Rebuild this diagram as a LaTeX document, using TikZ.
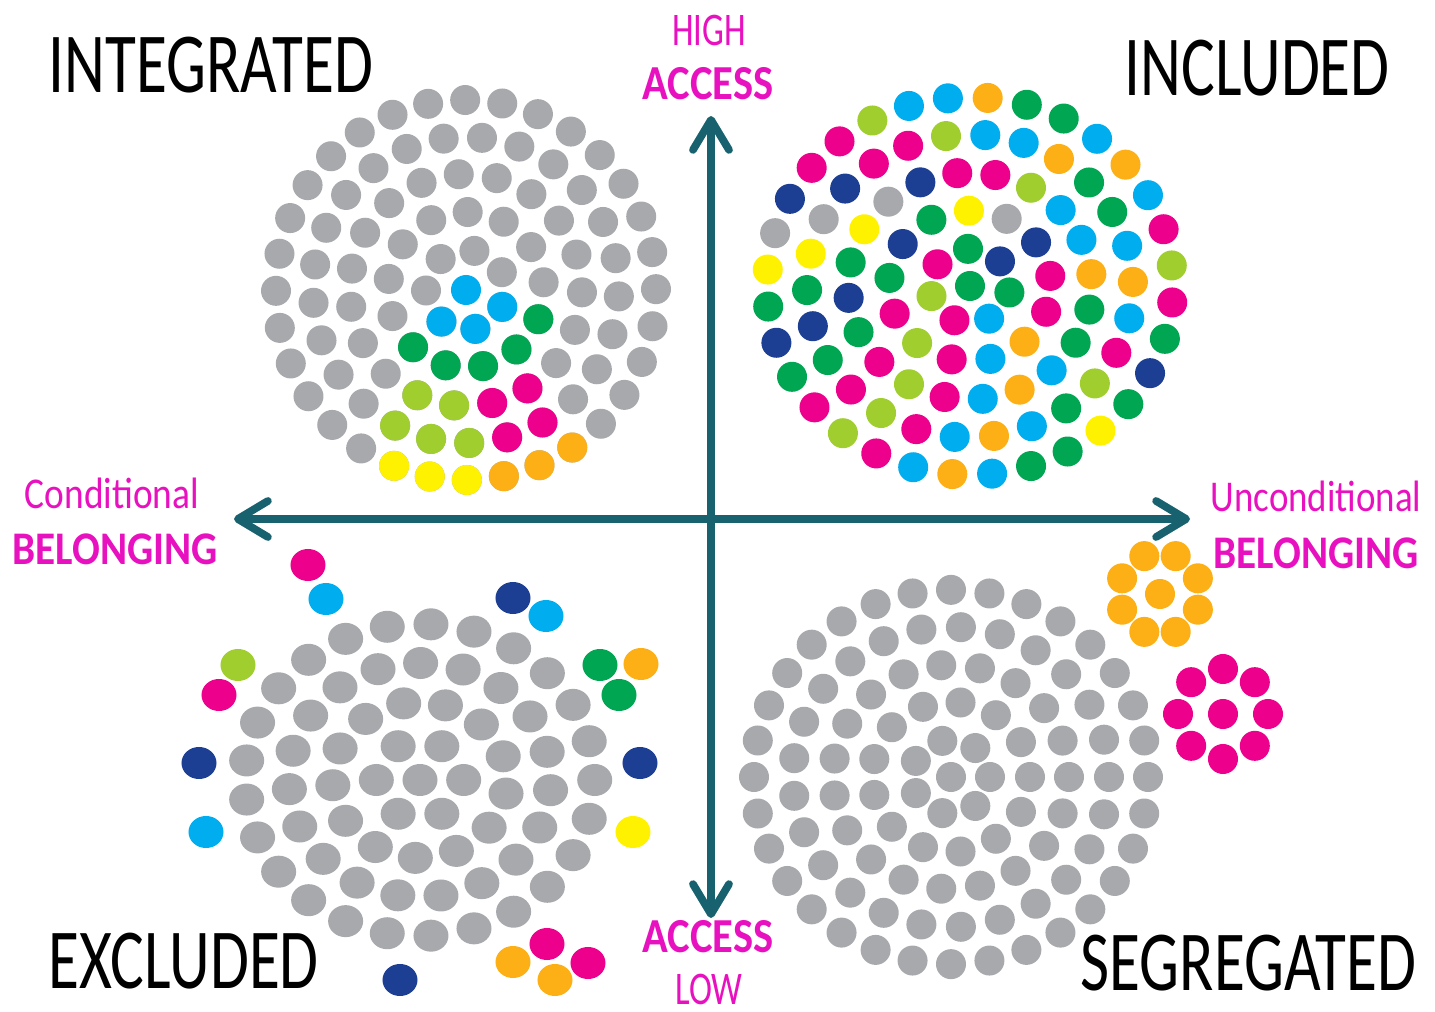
\documentclass[tikz,border=0pt]{standalone}
\usepackage{fontspec}
\setmainfont{Carlito}
\usepackage{graphicx}
\usetikzlibrary{arrows.meta,calc}

\definecolor{axisteal}{RGB}{23,98,110}
\definecolor{labelpink}{RGB}{232,17,191}
\definecolor{grayD}{RGB}{167,169,172}
\definecolor{cyanD}{RGB}{0,174,239}
\definecolor{magD}{RGB}{236,0,140}
\definecolor{navyD}{RGB}{28,63,148}
\definecolor{greenD}{RGB}{0,166,81}
\definecolor{limeD}{RGB}{159,206,46}
\definecolor{orangeD}{RGB}{253,176,22}
\definecolor{yellowD}{RGB}{255,242,0}

\newcommand{\quadtext}[1]{\scalebox{0.74}[1]{\fontsize{24.3}{28}\selectfont #1}}
\newcommand{\axistext}[3]{\scalebox{#1}[1]{\fontsize{#2}{#2}\selectfont #3}}

% ring of dots: centre, x radius, y radius, count, start angle, style
\newcommand{\dotring}[6]{%
  \foreach \i in {1,...,#4}
    \fill[#6] ($(#1)+({#2*cos(#5+360*(\i-1)/#4)},{#3*sin(#5+360*(\i-1)/#4)})$) circle;
}
% coloured dots laid over a ring: centre, radius, count, start angle, colours
\newcommand{\dotarc}[5]{%
  \foreach \c [count=\j from 0] in {#5}
    \fill[smalldot,\c] ($(#1)+({#2*cos(#4+360*\j/#3)},{#2*sin(#4+360*\j/#3)})$) circle;
}

\def\incpalette{{"cyanD","magD","greenD","navyD","limeD","orangeD","cyanD","magD","greenD","yellowD","magD","cyanD","greenD","orangeD","limeD","navyD","grayD","magD","cyanD","greenD"}}

\begin{document}
\begin{tikzpicture}[x=0.01cm,y=-0.01cm]

  \tikzstyle{smalldot}=[radius=1.5mm]
  \tikzstyle{widedot}=[x radius=1.75mm,y radius=1.6mm]
  \tikzstyle{axis}=[axisteal,line width=2.2pt,<->,>={Straight Barb[round,length=3mm,width=3.6mm]}]
  \tikzstyle{pinklabel}=[labelpink,inner sep=0pt,anchor=base]
  \tikzstyle{quadlabel}=[black,inner sep=0pt,anchor=base west]

  \useasboundingbox (0,0) rectangle (1435,1012);

  \coordinate (integ) at (466,290);
  \coordinate (incl) at (970,286);
  \coordinate (excl) at (420,780);
  \coordinate (segr) at (951,777);
  \coordinate (orangeset) at (1160,594);
  \coordinate (pinkset) at (1223,714);

  % integrated
  \fill[smalldot,cyanD] (integ) circle;
  \foreach \rr/\nn/\st in {40/7/25,78/13/22,116/19/58,153/25/60,190/32/56}
    {\dotring{integ}{\rr}{\rr}{\nn}{\st}{smalldot,grayD}}
  \dotarc{integ}{40}{7}{25}{cyanD,cyanD,cyanD}
  \dotarc{integ}{78}{13}{22}{greenD,greenD,greenD,greenD,greenD}
  \dotarc{integ}{116}{19}{58}{magD,magD,limeD,limeD}
  \dotarc{integ}{153}{25}{60}{magD,magD,limeD,limeD,limeD}
  \dotarc{integ}{190}{32}{56}{orangeD,orangeD,orangeD,yellowD,yellowD,yellowD}

  % included
  \fill[smalldot,greenD] (incl) circle;
  \foreach \k/\rr/\nn in {1/40/7,2/81/13,3/122/20,4/163/26,5/203/32}
    \foreach \i in {1,...,\nn} {
      \pgfmathsetmacro\cname{\incpalette[int(mod(7*\i+13*\k,20))]}
      \fill[smalldot,\cname] ($(incl)+({\rr*cos(360*\i/\nn+10*\k)},{0.93*\rr*sin(360*\i/\nn+10*\k)})$) circle;
    }

  % excluded
  \fill[widedot,grayD] (excl) circle;
  \foreach \rr/\nn/\st in {39/6/0,78/13/10,117/19/5,156/25/0}
    {\dotring{excl}{1.12*\rr}{\rr}{\nn}{\st}{widedot,grayD}}
  \foreach \x/\y/\c in {308/565/magD,326/599/cyanD,238/665/limeD,219/695/magD,
                        199/763/navyD,206/832/cyanD,513/598/navyD,546/616/cyanD,
                        600/665/greenD,641/664/orangeD,619/695/greenD,640/763/navyD,
                        633/832/yellowD,400/980/navyD,513/962/orangeD,547/944/magD,
                        588/963/magD,555/980/orangeD}
    \fill[widedot,\c] (\x,\y) circle;

  % segregated
  \fill[smalldot,grayD] (segr) circle;
  \foreach \rr/\nn/\st in {39/7/0,79/13/0,118/19/0,158/25/0,197/32/0}
    {\dotring{segr}{\rr}{0.95*\rr}{\nn}{\st}{smalldot,grayD}}
  \fill[smalldot,orangeD] (orangeset) circle;
  \dotring{orangeset}{41}{41}{8}{22.5}{smalldot,orangeD}
  \fill[smalldot,magD] (pinkset) circle;
  \dotring{pinkset}{45}{45}{8}{-90}{smalldot,magD}

  % axes
  \coordinate (acctop) at (711,116);
  \coordinate (accbot) at (711,918);
  \coordinate (belleft) at (234,519);
  \coordinate (belright) at (1190,519);
  \draw[axis] (belleft) -- (belright);
  \draw[axis] (accbot) -- (acctop);

  \node[pinklabel] (hightxt)     at (709,45)   {\axistext{0.74}{13.3}{HIGH}};
  \node[pinklabel] (acctoptxt)   at (708,100)  {\axistext{0.87}{13.9}{\bfseries ACCESS}};
  \node[pinklabel] (accbottxt)   at (708,952)  {\axistext{0.87}{13.9}{\bfseries ACCESS}};
  \node[pinklabel] (lowtxt)      at (709,1004) {\axistext{0.74}{13.3}{LOW}};
  \node[pinklabel] (condtxt)     at (112,508)  {\axistext{0.85}{12.5}{Conditional}};
  \node[pinklabel] (bellefttxt)  at (115,564)  {\axistext{0.88}{13.3}{\bfseries BELONGING}};
  \node[pinklabel] (uncondtxt)   at (1316,511) {\axistext{0.84}{12.5}{Unconditional}};
  \node[pinklabel] (belrighttxt) at (1316,568) {\axistext{0.88}{13.3}{\bfseries BELONGING}};

  \node[quadlabel] (integtxt) at (48,93)   {\quadtext{INTEGRATED}};
  \node[quadlabel] (incltxt)  at (1124,95) {\quadtext{INCLUDED}};
  \node[quadlabel] (excltxt)  at (48,988)  {\quadtext{EXCLUDED}};
  \node[quadlabel] (segrtxt)  at (1080,990) {\quadtext{SEGREGATED}};

\end{tikzpicture}
\end{document}
